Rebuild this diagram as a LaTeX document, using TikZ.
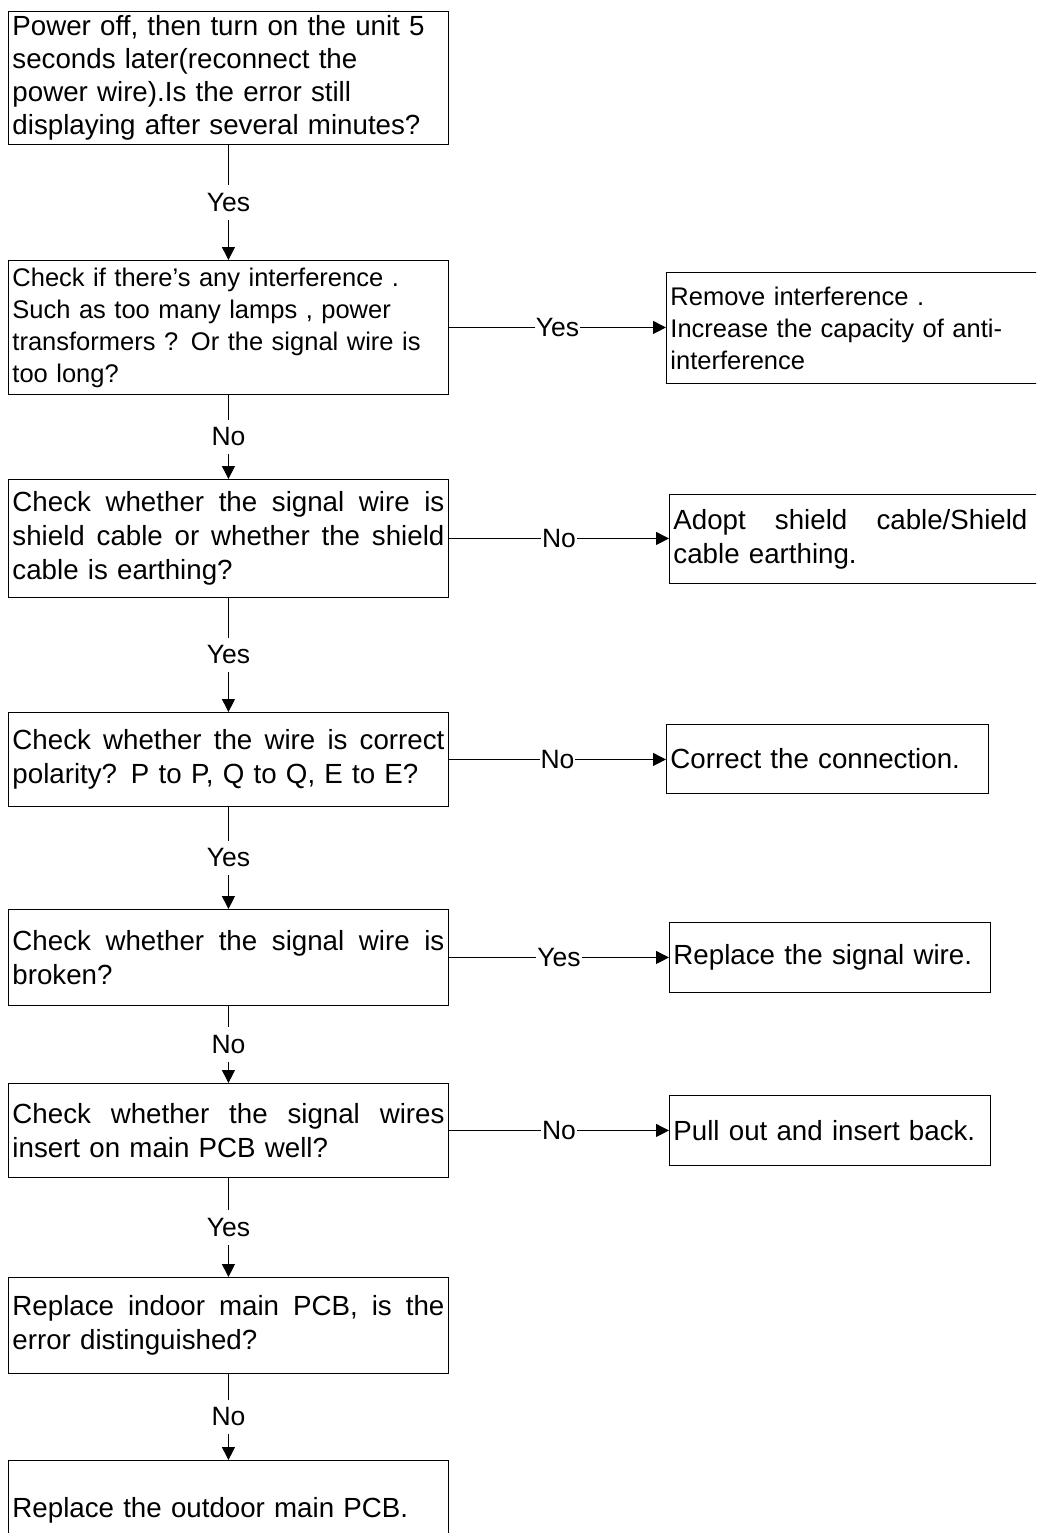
\documentclass[tikz,border=0pt]{standalone}
\usepackage{fontspec}
\setmainfont{Liberation Sans}
\usetikzlibrary{arrows.meta,positioning}
\newcommand{\jline}[2][\hsize]{{\spaceskip=0pt\xspaceskip=0pt\makebox[#1][s]{#2}}}

\begin{document}
\begin{tikzpicture}[x=1pt,y=-1pt,
	stepbox/.style={draw, line width=0.9pt, anchor=north west, inner xsep=4pt, inner ysep=0pt, align=left, font=\fontsize{27.7}{34}\selectfont},
	leftbox/.style={stepbox, text width=432pt},
	smalltext/.style={font=\fontsize{25.5}{32}\selectfont},
	flow/.style={line width=0.9pt, -{Triangle[length=13pt,width=13pt]}},
	lbl/.style={fill=white, inner xsep=1pt, inner ysep=8pt, font=\fontsize{26.5}{30}\selectfont}]
		\useasboundingbox (0,0) rectangle (1036,1533);
		\clip (0,0) rectangle (1036,1533);
		% main column
		\node [leftbox, minimum height=133pt, font=\fontsize{27.7}{33}\selectfont] (chk1) at (8,11) {Power off, then turn on the unit 5\\seconds later(reconnect the\\power wire).Is the error still\\displaying after several minutes?};
		\node [leftbox, smalltext, minimum height=134pt] (chk2) at (8,260) {Check if there’s any interference .\\Such as too many lamps , power\\transformers ? Or the signal wire is\\too long?};
		\node [leftbox, minimum height=118pt] (chk3) at (8,479) {\jline{Check whether the signal wire is}\\\jline{shield cable or whether the shield}\\cable is earthing?};
		\node [leftbox, minimum height=94pt] (chk4) at (8,712) {\jline{Check whether the wire is correct}\\polarity? P to P, Q to Q, E to E?};
		\node [leftbox, minimum height=96pt] (chk5) at (8,909) {\jline{Check whether the signal wire is}\\broken?};
		\node [leftbox, minimum height=94pt] (chk6) at (8,1083) {\jline{Check whether the signal wires}\\insert on main PCB well?};
		\node [leftbox, minimum height=96pt] (chk7) at (8,1277) {\jline{Replace indoor main PCB, is the}\\error distinguished?};
		\node [leftbox, minimum height=100pt] (chk8) at (8,1460) {Replace the outdoor main PCB.};
		% remedies
		\node [stepbox, smalltext, text width=366pt, minimum height=111pt] (fix1) at (666,272) {Remove interference .\\Increase the capacity of anti-\\interference};
		\node [stepbox, text width=366pt, minimum height=89pt] (fix2) at (669,494) {\jline[354pt]{Adopt shield cable/Shield}\\cable earthing.};
		\node [stepbox, text width=314pt, minimum height=69pt] (fix3) at (666,724) {Correct the connection.};
		\node [stepbox, text width=313pt, minimum height=70pt] (fix4) at (669,922) {Replace the signal wire.};
		\node [stepbox, text width=313pt, minimum height=70pt] (fix5) at (669,1095) {Pull out and insert back.};
		% connectors
		\draw [flow] (chk1) -- node [lbl] {Yes} (chk2);
		\draw [flow] (chk2) -- node [lbl] {No} (chk3);
		\draw [flow] (chk3) -- node [lbl] {Yes} (chk4);
		\draw [flow] (chk4) -- node [lbl] {Yes} (chk5);
		\draw [flow] (chk5) -- node [lbl] {No} (chk6);
		\draw [flow] (chk6) -- node [lbl] {Yes} (chk7);
		\draw [flow] (chk7) -- node [lbl] {No} (chk8);
		\draw [flow] (chk2.east) -- node [lbl] {Yes} (chk2.east -| fix1.west);
		\draw [flow] (chk3.east) -- node [lbl] {No} (chk3.east -| fix2.west);
		\draw [flow] (chk4.east) -- node [lbl] {No} (chk4.east -| fix3.west);
		\draw [flow] (chk5.east) -- node [lbl] {Yes} (chk5.east -| fix4.west);
		\draw [flow] (chk6.east) -- node [lbl] {No} (chk6.east -| fix5.west);
\end{tikzpicture}
\end{document}
